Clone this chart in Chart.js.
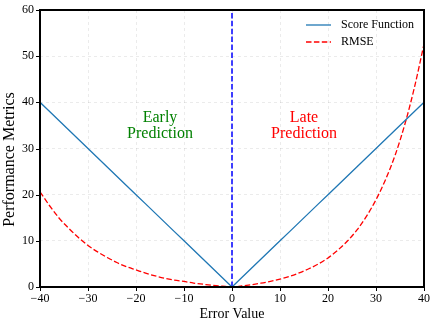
<!DOCTYPE html>
<html>
<head>
<meta charset="utf-8">
<script src="https://cdn.jsdelivr.net/npm/chart.js@4/dist/chart.umd.min.js"></script>
<style>
    html, body { margin: 0; padding: 0; background: #ffffff; }
    #wrap { width: 436px; height: 327px; }
</style>
</head>
<body>
<div id="wrap"><canvas id="errorChart" width="436" height="327"></canvas></div>
<script>
// ===========================
// DATA
// ===========================

const errorValues = [-40, -38, -36, -34, -32, -30, -28, -26, -24, -22, -20, -18, -16, -14, -12, -10, -8, -6, -4, -2,
    0, 2, 4, 6, 8, 10, 12, 14, 16, 18, 20, 22, 24, 26, 28, 30, 32, 34, 36, 38, 40];
const scoreValues = [40, 38, 36, 34, 32, 30, 28, 26, 24, 22, 20, 18, 16, 14, 12, 10, 8, 6, 4, 2,
    0, 2, 4, 6, 8, 10, 12, 14, 16, 18, 20, 22, 24, 26, 28, 30, 32, 34, 36, 38, 40];
const rmseValues = [20.6, 17.6, 14.9, 12.7, 10.7, 9.0, 7.6, 6.4, 5.3, 4.4, 3.7, 3.0, 2.4, 1.9, 1.5, 1.2, 0.85, 0.6, 0.36, 0.17,
    0, 0.22, 0.49, 0.82, 1.23, 1.72, 2.3, 3.05, 3.95, 5.0, 6.3, 7.95, 9.9, 12.3, 15.3, 18.9, 23.3, 28.6, 35.2, 43.2, 52.6];
const dividerX = [0, 0];
const dividerY = [0, 60];

const xTicks = [-40, -30, -20, -10, 0, 10, 20, 30, 40];
const yTicks = [0, 10, 20, 30, 40, 50, 60];

const legendLabels = ['Score Function', 'RMSE'];
const yAxisTitle = 'Performance Metrics';
const regionLabels = [
    { lines: ['Early', 'Prediction'], x: -15, y: 35, color: '#008000' },
    { lines: ['Late', 'Prediction'], x: 15, y: 35, color: '#ff0000' }
];

// ===========================
// STYLE
// ===========================

const SERIF = "'Liberation Serif', 'Times New Roman', serif";
const SCORE_COLOR = '#1f77b4';
const RMSE_COLOR = '#ff0000';
const DIVIDER_COLOR = '#0000ff';
const DASH = [5.5, 2.4];
const TICK_LEN = 4;

const toPoints = (xs, ys) => xs.map((x, i) => ({ x: x, y: ys[i] }));
const minusSign = (v) => String(v).replace('-', '\u2212');

// frame, tick marks, legend, y title and region labels
const decorPlugin = {
    id: 'decor',
    afterDatasetsDraw(chart) {
        const { ctx, chartArea: a, scales } = chart;
        ctx.save();

        // region labels
        ctx.font = '16px ' + SERIF;
        ctx.textAlign = 'center';
        ctx.textBaseline = 'middle';
        regionLabels.forEach(r => {
            const cx = scales.x.getPixelForValue(r.x);
            const cy = scales.y.getPixelForValue(r.y);
            ctx.fillStyle = r.color;
            const lh = 16;
            const y0 = cy - (r.lines.length - 1) * lh / 2;
            r.lines.forEach((t, i) => ctx.fillText(t, cx, y0 + i * lh));
        });

        // legend
        const styles = [
            { color: SCORE_COLOR, dash: [], width: 1.3 },
            { color: RMSE_COLOR, dash: DASH, width: 1.3 }
        ];
        ctx.font = '12px ' + SERIF;
        ctx.textAlign = 'left';
        legendLabels.forEach((label, i) => {
            const ly = a.top + 15 + i * 17;
            const lx = a.right - 118;
            ctx.beginPath();
            ctx.strokeStyle = styles[i].color;
            ctx.lineWidth = styles[i].width;
            ctx.setLineDash(styles[i].dash);
            ctx.moveTo(lx, ly);
            ctx.lineTo(lx + 25, ly);
            ctx.stroke();
            ctx.setLineDash([]);
            ctx.fillStyle = '#000000';
            ctx.fillText(label, lx + 35, ly);
        });

        // y axis title (sits a little below the axis centre in the original)
        ctx.save();
        ctx.translate(10, (a.top + a.bottom) / 2 + 11);
        ctx.rotate(-Math.PI / 2);
        ctx.font = '16px ' + SERIF;
        ctx.textAlign = 'center';
        ctx.fillStyle = '#000000';
        ctx.fillText(yAxisTitle, 0, 0);
        ctx.restore();

        // outward tick marks
        ctx.strokeStyle = '#000000';
        ctx.lineWidth = 1;
        ctx.beginPath();
        xTicks.forEach(v => {
            const px = Math.round(scales.x.getPixelForValue(v)) + 0.5;
            ctx.moveTo(px, a.bottom);
            ctx.lineTo(px, a.bottom + TICK_LEN);
        });
        yTicks.forEach(v => {
            const py = Math.round(scales.y.getPixelForValue(v)) + 0.5;
            ctx.moveTo(a.left, py);
            ctx.lineTo(a.left - TICK_LEN, py);
        });
        ctx.stroke();

        // frame
        ctx.lineWidth = 2;
        ctx.strokeRect(a.left, a.top, a.right - a.left, a.bottom - a.top);
        ctx.restore();
    }
};

const gridStyle = {
    color: 'rgba(0, 0, 0, 0.1)',
    lineWidth: 0.8,
    drawTicks: true,
    tickColor: 'rgba(0, 0, 0, 0)',
    tickLength: TICK_LEN
};

new Chart(document.getElementById('errorChart'), {
    type: 'line',
    data: {
        datasets: [
            {
                label: legendLabels[0],
                data: toPoints(errorValues, scoreValues),
                borderColor: SCORE_COLOR,
                borderWidth: 1.3,
                pointRadius: 0,
                tension: 0,
                fill: false
            },
            {
                label: legendLabels[1],
                data: toPoints(errorValues, rmseValues),
                borderColor: RMSE_COLOR,
                borderWidth: 1.3,
                borderDash: DASH,
                pointRadius: 0,
                cubicInterpolationMode: 'monotone',
                fill: false
            },
            {
                label: 'divider',
                data: toPoints(dividerX, dividerY),
                borderColor: DIVIDER_COLOR,
                borderWidth: 1.5,
                borderDash: DASH,
                pointRadius: 0,
                fill: false
            }
        ]
    },
    options: {
        responsive: false,
        animation: false,
        events: [],
        layout: { padding: { top: 10, right: 12, left: 0, bottom: 0 } },
        plugins: {
            legend: { display: false },
            tooltip: { enabled: false }
        },
        scales: {
            x: {
                type: 'linear',
                min: -40,
                max: 40,
                afterFit: (scale) => { scale.height = 40; },
                afterBuildTicks: (scale) => { scale.ticks = xTicks.map(v => ({ value: v })); },
                grid: gridStyle,
                border: { display: false, dash: [3, 3] },
                ticks: {
                    color: '#000000',
                    padding: 1,
                    maxRotation: 0,
                    font: { family: SERIF, size: 12 },
                    callback: minusSign
                },
                title: {
                    display: true,
                    text: 'Error Value',
                    color: '#000000',
                    font: { family: SERIF, size: 14 },
                    padding: { top: 0, bottom: 4 }
                }
            },
            y: {
                min: 0,
                max: 60,
                afterFit: (scale) => { scale.width = 40; },
                afterBuildTicks: (scale) => { scale.ticks = yTicks.map(v => ({ value: v })); },
                grid: gridStyle,
                border: { display: false, dash: [3, 3] },
                ticks: {
                    color: '#000000',
                    padding: 2,
                    font: { family: SERIF, size: 12 },
                    callback: minusSign
                }
            }
        }
    },
    plugins: [decorPlugin]
});
</script>
</body>
</html>
